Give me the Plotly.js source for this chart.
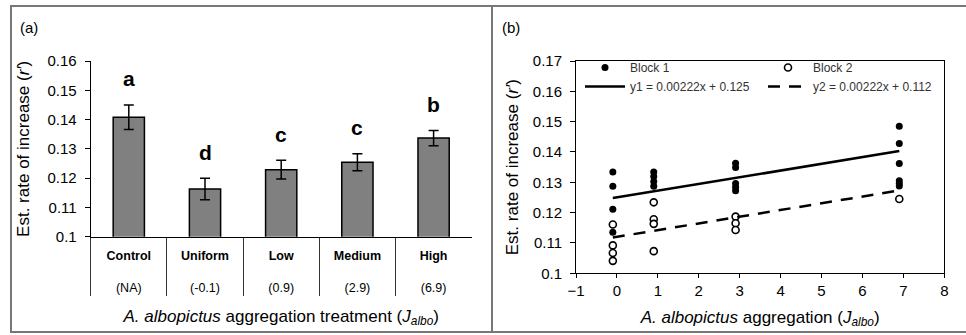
<!DOCTYPE html>
<html><head><meta charset="utf-8">
<script src="https://cdn.plot.ly/plotly-3.0.1.min.js"></script>
<style>html,body{margin:0;padding:0;background:#fff}#chart{width:966px;height:335px}</style>
</head><body><div id="chart"></div>
<script>
// ---- Panel (a) data ----
const categories = ['Control', 'Uniform', 'Low', 'Medium', 'High'];
const jLabels = ['(NA)', '(-0.1)', '(0.9)', '(2.9)', '(6.9)'];
const meanR = [0.1408, 0.1163, 0.1229, 0.1254, 0.1337];
const seR = [0.0042, 0.0037, 0.0032, 0.0029, 0.0026];
const letters = ['a', 'd', 'c', 'c', 'b'];

// ---- Panel (b) data ----
const block1X = [-0.1, -0.1, -0.1, -0.1, 0.9, 0.9, 0.9, 0.9, 2.9, 2.9, 2.9, 2.9, 2.9, 6.9, 6.9, 6.9, 6.9, 6.9, 6.9];
const block1Y = [0.1334, 0.1287, 0.1211, 0.1135, 0.1334, 0.1319, 0.1303, 0.1287, 0.1363, 0.1349, 0.1296, 0.1284, 0.1272, 0.1485, 0.1428, 0.1362, 0.1305, 0.1296, 0.1288];
const block2X = [-0.1, -0.1, -0.1, -0.1, 0.9, 0.9, 0.9, 0.9, 2.9, 2.9, 2.9, 6.9];
const block2Y = [0.1161, 0.1092, 0.1067, 0.1041, 0.1234, 0.1178, 0.1163, 0.1073, 0.1187, 0.1165, 0.1143, 0.1245];
const fitX = [-0.1, 6.9];
const fit1Y = [0.1248, 0.1403];
const fit2Y = [0.1118, 0.1273];
const legendNames = ['Block 1', 'Block 2', 'y1 = 0.00222x + 0.125', 'y2 = 0.00222x + 0.112'];

const FONT = 'Liberation Sans, Arial, sans-serif';
const W = 966, H = 335;
const px = v => v / W, py = v => (H - v) / H;

const tickText = categories.map((c, i) => '<b>' + c + '</b><br><br>' + jLabels[i]);

const traces = [
  {
    type: 'bar', x: categories, y: meanR, xaxis: 'x', yaxis: 'y',
    width: 0.41, showlegend: false,
    marker: {color: '#808080', line: {color: '#000', width: 1.5}},
    error_y: {type: 'data', array: seR, visible: true, color: '#000', thickness: 1.5, width: 5}
  },
  {
    type: 'scatter', mode: 'markers', x: block1X, y: block1Y, xaxis: 'x2', yaxis: 'y2',
    name: legendNames[0], legend: 'legend', legendgroup: 'g1', legendrank: 1,
    marker: {color: '#000', size: 7, symbol: 'circle'}
  },
  {
    type: 'scatter', mode: 'markers', x: block2X, y: block2Y, xaxis: 'x2', yaxis: 'y2',
    name: legendNames[1], legend: 'legend2', legendgroup: 'g2', legendrank: 1,
    marker: {color: '#fff', size: 7, symbol: 'circle', line: {color: '#000', width: 1.6}}
  },
  {
    type: 'scatter', mode: 'lines', x: fitX, y: fit1Y, xaxis: 'x2', yaxis: 'y2',
    name: legendNames[2], legend: 'legend', legendgroup: 'g3', legendrank: 2,
    line: {color: '#000', width: 2.5}
  },
  {
    type: 'scatter', mode: 'lines', x: fitX, y: fit2Y, xaxis: 'x2', yaxis: 'y2',
    name: legendNames[3], legend: 'legend2', legendgroup: 'g4', legendrank: 2,
    line: {color: '#000', width: 2.5, dash: '12px,9px'}
  }
];

const annotations = categories.map((c, i) => ({
  x: c, y: meanR[i] + seR[i], xref: 'x', yref: 'y', text: '<b>' + letters[i] + '</b>', showarrow: false,
  yanchor: 'middle', yshift: 26, font: {family: FONT, size: 21, color: '#000'}
}));
annotations.push(
  {x: px(18), y: py(27), xref: 'paper', yref: 'paper', xanchor: 'left', yanchor: 'middle',
   text: '(a)', showarrow: false, font: {family: FONT, size: 15, color: '#000'}},
  {x: px(500), y: py(27), xref: 'paper', yref: 'paper', xanchor: 'left', yanchor: 'middle',
   text: '(b)', showarrow: false, font: {family: FONT, size: 15, color: '#000'}}
);

const tickFont = {family: FONT, size: 15, color: '#000'};
const titleFont = {family: FONT, size: 17, color: '#000'};
const legendBase = {
  orientation: 'v', xanchor: 'left', yanchor: 'top', bgcolor: 'rgba(0,0,0,0)', borderwidth: 0,
  font: {family: FONT, size: 12, color: '#333'}, tracegroupgap: 12, itemwidth: 40, traceorder: 'normal'
};
const layout = {
  width: W, height: H,
  margin: {l: 0, r: 0, t: 0, b: 0},
  paper_bgcolor: '#fff', plot_bgcolor: 'rgba(0,0,0,0)',
  font: {family: FONT, color: '#000'},
  xaxis: {
    domain: [px(90.7), px(471.7)], anchor: 'y', type: 'category',
    tickmode: 'array', tickvals: categories, ticktext: tickText,
    tickson: 'boundaries', ticks: 'outside', ticklen: 58, tickcolor: '#333', tickwidth: 1,
    ticklabelstandoff: 7,
    showline: true, linecolor: '#000', linewidth: 1, showgrid: false, zeroline: false,
    tickfont: {family: FONT, size: 12.5, color: '#000'},
    range: [-0.5, 4.5],
    title: {text: '<i>A. albopictus</i> aggregation treatment (<i>J<sub>albo</sub></i>)',
            font: titleFont, standoff: 15}
  },
  yaxis: {
    domain: [py(236.7), py(61)], anchor: 'x', range: [0.1, 0.16],
    tickvals: [0.1, 0.11, 0.12, 0.13, 0.14, 0.15, 0.16], ticktext: ['0.1', '0.11', '0.12', '0.13', '0.14', '0.15', '0.16'],
    ticks: 'outside', ticklen: 5, tickcolor: '#000', showline: true, linecolor: '#000', linewidth: 1,
    showgrid: false, zeroline: false, tickfont: tickFont, ticklabelstandoff: 5,
    title: {text: 'Est. rate of increase (<i>r′</i>)', font: titleFont, standoff: 13}
  },
  xaxis2: {
    domain: [px(576), px(944.3)], anchor: 'y2', range: [-1, 8], dtick: 1,
    ticks: 'outside', ticklen: 4, tickcolor: '#000', showline: true, mirror: true, linecolor: '#000', linewidth: 1,
    showgrid: false, zeroline: false, tickfont: tickFont, ticklabelstandoff: 0,
    title: {text: '<i>A. albopictus</i> aggregation (<i>J<sub>albo</sub></i>)', font: titleFont, standoff: 12}
  },
  yaxis2: {
    domain: [py(273.3), py(61)], anchor: 'x2', range: [0.1, 0.17],
    tickvals: [0.1, 0.11, 0.12, 0.13, 0.14, 0.15, 0.16, 0.17], ticktext: ['0.1', '0.11', '0.12', '0.13', '0.14', '0.15', '0.16', '0.17'],
    ticks: 'outside', ticklen: 5, tickcolor: '#000', showline: true, mirror: true, linecolor: '#000', linewidth: 1,
    showgrid: false, zeroline: false, tickfont: tickFont, ticklabelstandoff: 5,
    title: {text: 'Est. rate of increase (<i>r′</i>)', font: titleFont, standoff: 9}
  },
  showlegend: true,
  legend: Object.assign({}, legendBase, {x: px(580), y: py(53)}),
  legend2: Object.assign({}, legendBase, {x: px(763), y: py(53)}),
  annotations: annotations,
  shapes: [
    {type: 'rect', xref: 'paper', yref: 'paper', x0: px(11), x1: 1.01, y0: py(332), y1: py(6),
     line: {color: '#777', width: 2}, fillcolor: 'rgba(0,0,0,0)'},
    {type: 'line', xref: 'paper', yref: 'paper', x0: px(492), x1: px(492), y0: py(332), y1: py(6),
     line: {color: '#777', width: 2}}
  ]
};

Plotly.newPlot('chart', traces, layout, {displayModeBar: false, staticPlot: true});
</script>
</body></html>
